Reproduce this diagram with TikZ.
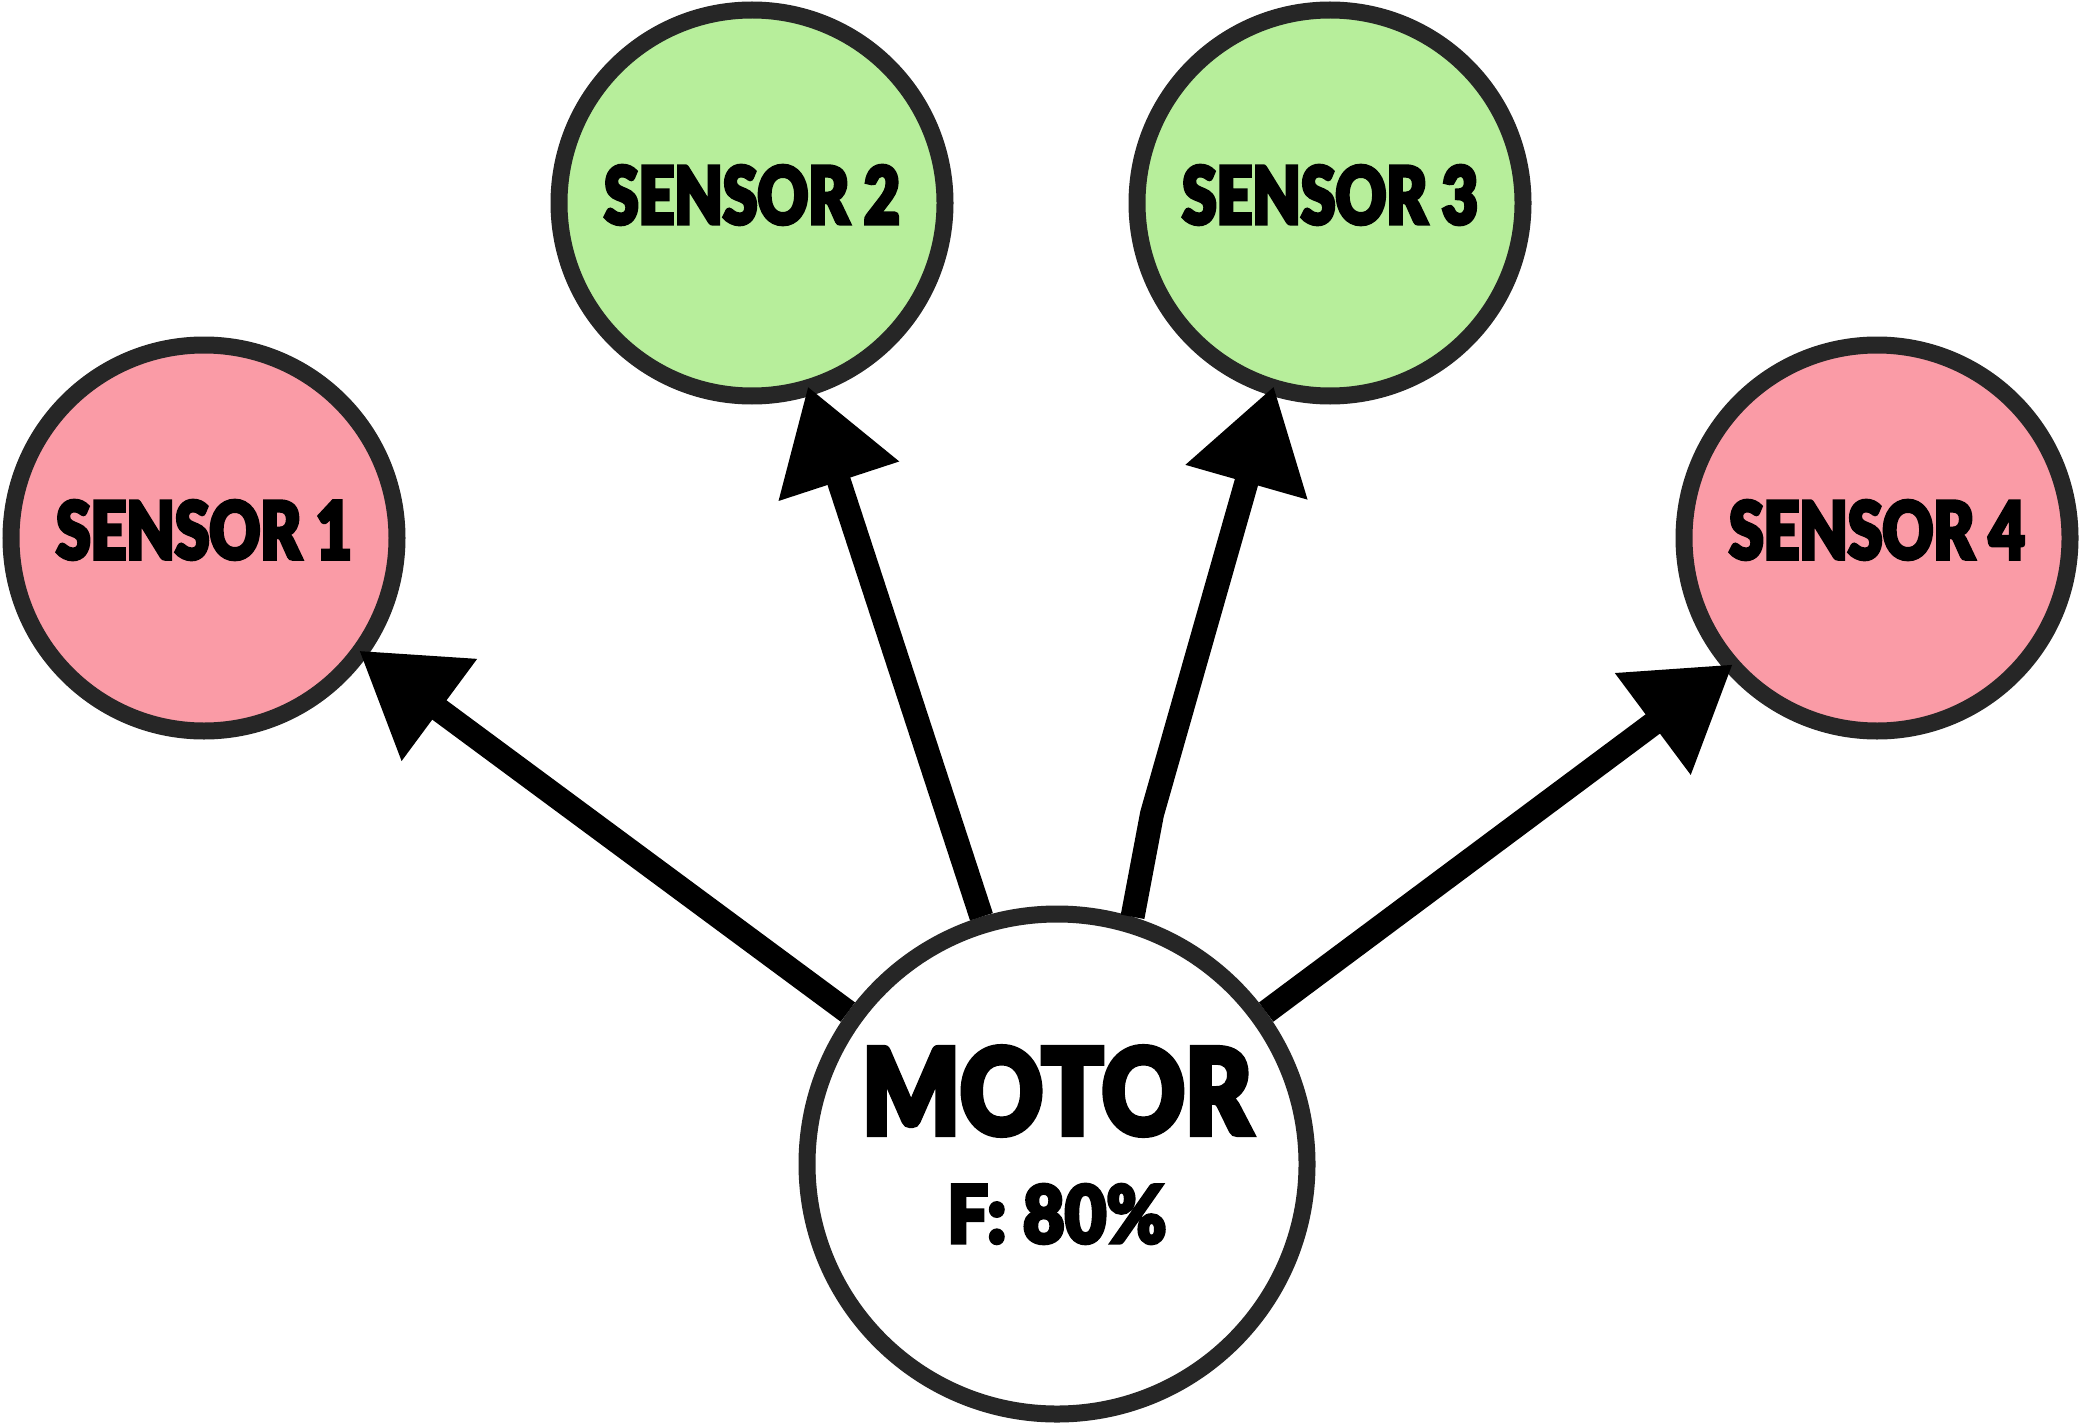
\documentclass[tikz,border=0pt]{standalone}
\usepackage{fontspec}
\newfontfamily\cart{Lato Black}[FakeStretch=0.78, FakeBold=4]
\newfontfamily\cartm{Lato Black}[FakeStretch=0.85, FakeBold=4]
\newfontfamily\cartf{Lato Black}[FakeStretch=0.9, FakeBold=4]
\usetikzlibrary{arrows.meta}
\definecolor{edge}{HTML}{262626}
\definecolor{pinkfill}{RGB}{250,155,166}
\definecolor{greenfill}{RGB}{183,238,155}
\tikzset{
  sensor/.style={circle, draw=edge, line width=8.5pt, minimum size=193pt, inner sep=0pt},
  motorbox/.style={circle, draw=edge, line width=8.5pt, minimum size=250pt, inner sep=0pt, fill=white},
  lbl/.style={inner sep=0pt, font=\cart\fontsize{40}{40}\selectfont},
  bigl/.style={inner sep=0pt, font=\cartm\fontsize{60}{60}\selectfont},
  fl/.style={inner sep=0pt, font=\cartf\fontsize{40}{40}\selectfont},
  conn/.style={line width=12pt, shorten >=-5pt, -{Triangle[length=50pt,width=60pt]}}
}
\begin{document}
\begin{tikzpicture}[x=0.5pt,y=-0.5pt]
\useasboundingbox[fill=white] (0,0) rectangle (2081,1423);
\node[sensor, fill=pinkfill] (s1) at (204,538) {};
\node[sensor, fill=greenfill] (s2) at (752,203) {};
\node[sensor, fill=greenfill] (s3) at (1330,203) {};
\node[sensor, fill=pinkfill] (s4) at (1877,538) {};
\node[motorbox] (m) at (1057,1164) {};
\node[lbl] (t1) at (204,530) {SENSOR 1};
\node[lbl] (t2) at (752,195) {SENSOR 2};
\node[lbl] (t3) at (1330,195) {SENSOR 3};
\node[lbl] (t4) at (1877,530) {SENSOR 4};
\node[bigl] (tm) at (1057,1091) {MOTOR};
\node[fl] (tf) at (1057,1214) {F: 80\%};
\coordinate (k1) at (1152,814);
\draw[conn] (m.144) -- (s1.324.8);
\draw[conn] (m.107) -- (s2.287.6);
\draw[conn] (m.73) -- (k1) -- (s3.253.7);
\draw[conn] (m.36.5) -- (s4.221.2);
\end{tikzpicture}
\end{document}
